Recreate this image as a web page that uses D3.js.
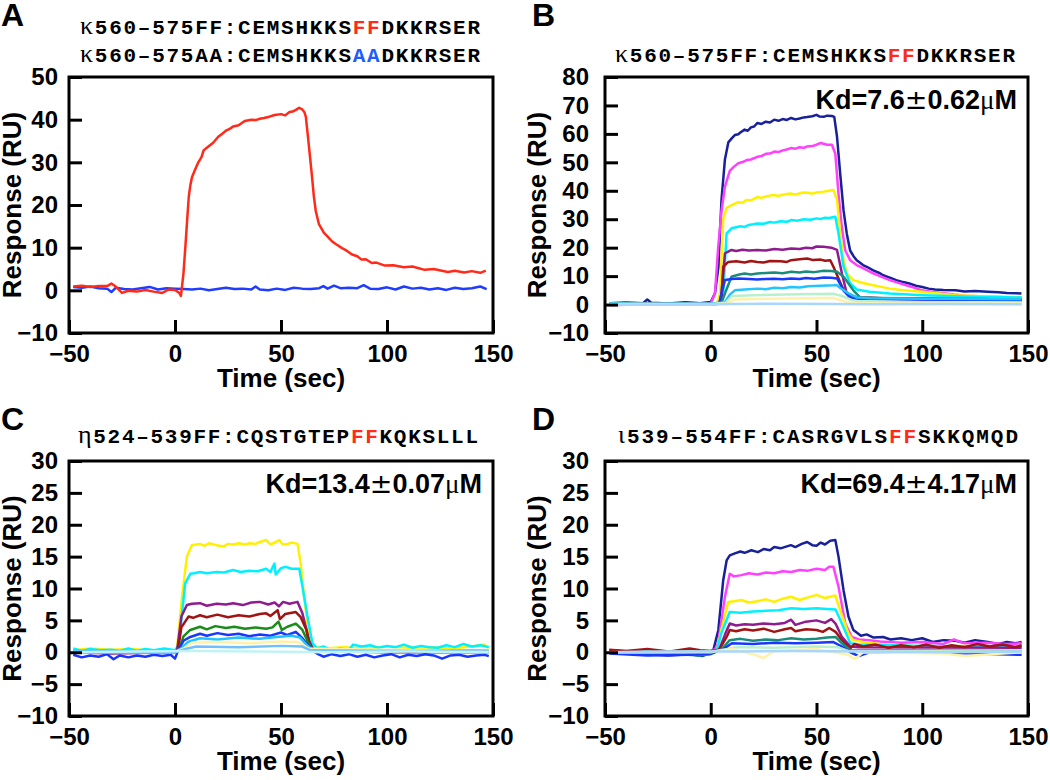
<!DOCTYPE html>
<html>
<head>
<meta charset="utf-8">
<script src="https://cdn.jsdelivr.net/npm/d3@7"></script>
<style>
  body { margin: 0; background: #fff; }
  text { font-family: "Liberation Sans", Arial, Helvetica, sans-serif; }
</style>
</head>
<body>
<div id="container"></div>
<script>
// time ticks shared by all panels
var xTicks = [-50, 0, 50, 100, 150];
var yTicksA = [-10, 0, 10, 20, 30, 40, 50];
var yTicksB = [-10, 0, 10, 20, 30, 40, 50, 60, 70, 80];
var yTicksCD = [-10, -5, 0, 5, 10, 15, 20, 25, 30];

/* panel A : kappa FF (red) and kappa AA (blue) */
var aFF = [[-48,0.9],[-44,1.1],[-40,0.8],[-36,1.0],[-32,1.0],[-30,1.6],[-28,0.9],[-25,-0.6],[-22,-0.1],[-18,-0.3],[-14,0.1],[-10,-0.3],[-6,-0.6],[-3,0.2],[0,0.1],[2,-0.6],[2.8,-1.3],[4,4],[5,11],[5.8,17],[6.5,22],[7.2,24.5],[8,26.5],[9.5,28.3],[11,30],[12.5,31.2],[13.5,32.8],[15,33.4],[16.5,34],[18,34.6],[20.4,36],[22,36.6],[24.3,37.5],[26,37.9],[27.4,38.4],[30,38.7],[32.9,39.7],[36,40],[38,39.9],[40,40.2],[42,40.4],[44.5,40.7],[47,41.1],[50,41.3],[52,41.0],[54,41.8],[55.5,41.9],[57,42.3],[58.6,42.8],[60,42.4],[61,41.8],[61.7,40.7],[62.5,37],[63.2,33.6],[64.5,27.3],[65.5,22],[66.4,18.6],[67.9,15.5],[70.2,13.5],[72,12.6],[74,11.5],[76,10.8],[78.8,9.9],[81,9.3],[83.5,8.4],[86,8.0],[88,7.2],[90,7.3],[92.8,6.4],[95,6.5],[99,5.8],[103,5.9],[108,5.4],[112,5.6],[117.8,4.8],[122,5.0],[128.7,4.3],[132,4.6],[136.4,4.2],[140,4.5],[144,4.1],[146.6,4.6]];
var aAA = [[-48,0.8],[-44,0.6],[-40,0.9],[-36,0.5],[-32,0.4],[-30,-0.4],[-28,0.6],[-24,0.3],[-20,0.2],[-16,0.5],[-12,0.8],[-8,0.2],[-4,0.5],[0,0.4],[4,0.3],[8,0.2],[12,0.4],[16,0.0],[20,0.3],[24,0.6],[28,0.3],[32,0.4],[36,0.2],[38,0.9],[40,0.2],[44,0.0],[48,0.4],[52,0.1],[56,0.6],[60,0.4],[64,0.3],[68,0.5],[70,1.0],[72,0.4],[75,1.1],[78,0.5],[82,0.6],[86,0.5],[89,1.2],[92,0.4],[96,0.3],[100,0.7],[104,0.2],[108,0.9],[112,0.4],[116,0.6],[120,0.2],[124,0.5],[128,0.1],[132,0.6],[136,0.3],[140,0.5],[144,0.9],[147,0.3]];

/* panel B : kappa FF concentration series */
var b1 = [[-48,0.5],[-40,0.7],[-32,0.5],[-30,1.8],[-28,0.6],[-20,0.4],[-12,0.8],[-5,0.5],[0,0.9],[2,4],[3.6,13],[5.1,37],[6.7,51],[8.3,57],[10,58.5],[11.4,59.6],[13,59.9],[14,60.5],[16,61.5],[17.5,61.1],[19,62.3],[20.5,62.6],[22,63.8],[24,63.5],[26,64.3],[28,64.0],[30,65],[32,64.6],[34,65.2],[36,64.9],[38,65.6],[40,65.1],[42,65.4],[44,65.8],[45.6,65.9],[48,66.2],[50,66.7],[51.5,66.1],[53.4,66],[55,66.4],[57.3,66.3],[58.4,66],[59.7,59],[61.2,46],[62.8,33],[64.3,25],[65.9,19],[67.5,17],[69,15.6],[72,13.9],[74,13.2],[76.8,12],[80,11],[81.5,10.3],[85,9.4],[87.7,8.6],[91,7.9],[93.9,7.4],[97,6.6],[100,6.2],[103,5.6],[106,5.3],[110,5.1],[115.7,5],[120,4.6],[125,4.8],[131,4.5],[136,4.3],[140,4.1],[146.9,3.9]];
var b2 = [[-48,0.3],[-35,0.4],[-20,0.2],[-8,0.5],[0,0.4],[2,3.9],[3.5,20],[5.1,33],[6.7,41.5],[9,47],[11,48.5],[13,49.7],[15,50.1],[17,50.8],[19,51.0],[22.3,52],[24,52.2],[26,53],[28,53.1],[30,53.8],[32,53.6],[34,54.2],[36,54.5],[37.9,55],[40,54.8],[42,55.3],[44,55.1],[45.6,55.6],[48,55.7],[50,56.2],[52,56.8],[55,56.2],[57.3,56.2],[58.9,53],[60.4,39],[62,27],[63.6,19],[65.9,15.6],[69,13.9],[72,12.8],[76.8,11],[80,10],[84.6,8.6],[88,7.8],[92.4,6.8],[96,6],[100,5],[105,4.4],[111,3.9],[115,3.5],[120,3.1],[130,2.8],[140,2.6],[147,2.5]];
var b3 = [[-48,0.2],[-30,0.3],[-15,0.1],[0,0.2],[3,0.5],[4.4,4],[5.9,30],[7.5,34],[10,35],[13,36],[15,35.8],[17,36.8],[19,36.6],[22,37.8],[24,37.5],[26,38],[28,38.3],[30,38.5],[32,38.2],[34,38.6],[36,38.9],[38,39],[40,38.7],[42,39.1],[44,39.4],[46,39.3],[48,39.0],[50,39.4],[53.4,39.7],[56,40],[58,40.3],[59.7,36.8],[61.2,25],[62.8,15.6],[64.3,11],[67.4,8.6],[72,7.6],[76.8,6.8],[80,6.3],[84.6,5.6],[90,5.1],[100,4.5],[108,3.9],[115.7,3.3],[125,3.0],[135,2.8],[147,2.5]];
var b4 = [[-48,0.4],[-30,0.2],[-15,0.4],[0,0.3],[4,0.5],[5.9,3.9],[7.5,25],[9.8,26.8],[12,27.2],[14,27.5],[16,27.3],[18,28],[20,28.2],[22,28.5],[25,28.4],[28,29],[30,28.8],[33,29.3],[36,29.1],[38,29.7],[41,29.5],[44,30],[47,29.8],[50,30.3],[52,30.1],[54,30.5],[56,30.4],[58.9,30.9],[60.4,25],[62.8,13.3],[65.9,7.4],[69,5.3],[75,4.5],[84.6,3.9],[100,3.3],[120,2.8],[147,2.5]];
var b5 = [[-48,0.1],[-30,0.2],[0,0.2],[4,0.3],[5.1,3.9],[6.7,18],[9.8,19.2],[12,18.8],[15,19.3],[18,19.0],[22,19.2],[26,19.0],[30,19.5],[34,19.3],[38,19.7],[42,19.5],[45,20],[48,19.8],[50,20.4],[53.4,20.3],[57,20],[59.7,19.2],[62,11],[64.3,3.9],[69,2.5],[90,2],[120,1.8],[147,1.5]];
var b6 = [[-48,-0.2],[-30,0],[-10,-0.1],[0,0],[4.5,0.5],[5.1,2.7],[5.9,13.3],[8.3,15],[12,15.2],[16,14.8],[19,15.3],[22,15],[25,14.8],[28,15.3],[33,15.2],[36,15.0],[38,15.6],[42,15.9],[45.6,16.2],[48,15.7],[52,15.8],[54,15.4],[56.5,15.6],[58,13.3],[62.8,5],[65.9,2.5],[80,2.2],[110,2],[147,1.8]];
var b7 = [[-48,0.2],[-20,0.1],[0,0.2],[5,0.4],[6.7,3.9],[9.8,9.8],[13,10.5],[16,10.9],[19,10.6],[22,10.9],[26,11.1],[30,11.3],[34,11.0],[38,11.5],[42,11.3],[45,11.6],[49,11.4],[53.4,11.9],[57,11.8],[59.7,11.5],[62.8,9.8],[67.4,5],[70.6,2.5],[80,2.3],[110,2],[147,1.8]];
var b8 = [[-48,0],[-20,0.1],[0,0],[4,0.3],[5.1,3.9],[6.7,8.6],[10,9],[13,9.2],[18,9],[22,8.8],[26,9.0],[30,9.1],[34,8.9],[38,9.2],[42,9.0],[45,9.3],[49,9.1],[53.4,9.5],[57,9.4],[59.7,9.2],[62.8,5],[65.9,2.5],[70,2],[90,1.8],[120,1.7],[147,1.6]];
var b9 = [[-48,0.3],[-20,0.2],[0,0.3],[6.7,0.8],[9,3.5],[11.4,5],[16,5.3],[22,5.6],[26,5.4],[30,5.9],[34,5.7],[38,6.2],[42,6.0],[46,6.4],[52,6.6],[58,6.8],[59.5,6.9],[61.2,5.8],[65,4],[69,2.5],[75,2.2],[100,2],[147,1.9]];
var b10 = [[-48,0.2],[0,0.2],[7,0.6],[10,3],[20,3.3],[35,3.5],[50,3.7],[58,3.8],[62,3],[68,1.2],[100,0.8],[147,0.7]];
var b11 = [[-48,0],[0,0],[8,0.4],[11,1.8],[25,2],[45,2.2],[58,2.3],[64,1],[70,0.4],[147,0.4]];
var b12 = [[-48,0],[-10,0],[10,0.2],[30,0.3],[60,0.2],[75,0.1],[110,0.2],[147,0.1]];

/* panel C : eta FF */
var c1 = [[-48,0.3],[-40,0.6],[-30,0.4],[-20,0.5],[-10,0.2],[0,0.3],[0.9,0.3],[3.3,8.7],[5.6,15],[7.9,16.8],[10,16.9],[11.8,17],[14,16.7],[16,17.1],[19.6,16.8],[23,16.6],[25,17.0],[27.4,16.9],[30,17.1],[33,16.9],[35.2,17.1],[38,17.0],[40,17.3],[43,17.6],[45,16.9],[47,17.2],[49.2,17.6],[50.5,17.0],[52.3,16.9],[55,17.2],[57.8,17.0],[59.3,13.9],[60.9,8.7],[62.5,4.5],[64,1.9],[65.6,0.9],[70,0.6],[80,0.8],[90,0.6],[100,0.9],[110,0.7],[120,0.8],[130,0.6],[140,0.9],[146,1.2],[148,0.6]];
var c2 = [[-48,0.6],[-44,0.2],[-40,0.5],[-35,0.3],[-30,0.4],[-26,0.2],[-22,0.6],[-18,0.2],[-14,0.5],[-10,0.3],[-5,0.6],[0,0.3],[1.5,1.0],[2.5,3.5],[4.8,10.8],[7.2,12.3],[9,12.4],[11.8,12.6],[15,12.4],[19.6,12.6],[23,12.5],[27.4,12.9],[31,12.6],[35,12.8],[39,12.7],[43,13.1],[45,12.6],[46.9,13.9],[47.5,12.2],[50,13.2],[52.3,13.4],[55,13.1],[58.6,13.1],[60.1,10.3],[62.5,5.6],[64.8,1.4],[67,0.6],[70,0.9],[74,0.3],[78,0.6],[82,0.3],[84,1.2],[88,0.9],[92,1.1],[96,0.7],[100,1.0],[104,0.8],[108,1.2],[112,0.7],[116,1.0],[120,0.8],[124,0.7],[128,1.1],[132,0.8],[136,1.3],[140,0.9],[144,1.1],[148,0.8]];
var c3 = [[-48,0],[-30,-0.2],[0,0],[1,0.3],[3,5.6],[5.6,7.4],[8,7.6],[11.8,7.7],[15,7.3],[19.6,7.6],[24,7.5],[27.4,7.7],[32,7.4],[36,7.8],[40,7.9],[44,7.5],[47,7.8],[49,7.2],[51,7.9],[54,7.6],[57.8,7.9],[60.1,6.1],[63.2,1.9],[65,0.5],[70,0.2],[100,0],[148,0]];
var c4 = [[-48,0],[0,0],[1.5,0.5],[3,3.9],[6.4,5.6],[8.5,5.4],[11.8,5.8],[15,5.5],[20,5.9],[25,5.5],[30,5.8],[35,5.6],[40,6.0],[43,6.1],[45,5.7],[48.4,6.6],[49.5,5.2],[52,6.0],[57,6.3],[59.3,5.5],[62,3.5],[63.2,1.4],[65,0.5],[70,0.2],[148,0.1]];
var c5 = [[-48,0],[0,0],[2,0.4],[4,2.5],[7.2,3.5],[11.8,4],[15,3.6],[19,4.1],[24,3.8],[28,4.0],[33,3.7],[38,3.9],[43,3.7],[46,3.9],[48.8,4.8],[50.4,3.5],[53,4.0],[57,4.5],[60.1,3.5],[63,1.4],[65,0.4],[148,0.2]];
var c6 = [[-48,-0.4],[-44,-0.8],[-40,-0.5],[-36,-0.7],[-32,-0.3],[-29,-1.1],[-26,-0.5],[-22,-0.8],[-18,-0.5],[-14,-0.7],[-10,-0.4],[-6,-0.6],[-2,-0.4],[0,-1.0],[1.5,0.3],[4,1.8],[7.2,2.4],[11.8,2.9],[15,2.6],[20,3.0],[25,2.7],[30,2.9],[35,2.5],[40,2.8],[45,2.6],[50,3.1],[53,2.7],[57,3.2],[60.1,2.2],[63,1.0],[65,0.2],[67,-0.2],[70,-0.7],[74,-0.3],[78,-0.6],[82,-0.3],[86,-0.7],[90,-0.4],[94,-0.8],[98,-0.5],[102,-0.3],[106,-0.8],[110,-0.4],[114,-0.6],[118,-0.3],[122,-0.5],[126,-1.0],[130,-0.5],[134,-0.4],[138,-0.7],[142,-0.5],[146,-0.4],[148,-0.6]];
var c7 = [[-48,0.2],[0,0.1],[3,0.6],[6,1.6],[11.8,2.2],[20,2.0],[30,2.3],[40,2.1],[48,2.4],[55,2.6],[59,2.3],[62,1.2],[65,0.3],[148,0.2]];
var c8 = [[-48,0],[0,0],[4,0.6],[8,1.5],[20,1.6],[35,1.4],[50,1.7],[58,1.6],[63,0.6],[148,0.1]];
var c9 = [[-48,0.1],[0,0],[5,0.5],[10,0.9],[30,0.8],[50,1.0],[60,0.9],[64,0.3],[148,0.1]];
var c10 = [[-48,0],[-20,0.1],[10,0.2],[40,0.1],[70,0],[110,0.1],[148,0]];

/* panel D : iota FF */
var d1 = [[-48,0.3],[-40,0.1],[-30,-0.3],[-20,-0.5],[-10,-0.3],[-4,-0.6],[0,0],[1.2,0.3],[3.6,3.5],[5.9,11.3],[7.5,14.4],[9,15.2],[11.4,15.5],[14,15.8],[16,15.6],[19.2,16],[22.3,15.7],[25,16.2],[28,16.0],[30,16.5],[33,16.3],[36,16.6],[37.9,16.8],[40,16.5],[43,17.0],[45.6,17.3],[48,16.8],[50,16.7],[52,17.2],[54,16.9],[56.5,17.5],[58.9,17.6],[60.4,15],[62.8,9.7],[65.1,5.6],[67.4,3.5],[69,3.1],[71,2.6],[73.7,2.8],[77,2.3],[81.5,2.4],[85,2.0],[90,2.2],[95,1.9],[100,2.2],[105,1.6],[110,1.9],[115.7,1.8],[120,1.5],[125,1.9],[131,1.6],[136,1.3],[140,1.6],[144,1.4],[147,1.6]];
var d2 = [[-48,0.2],[-30,0.1],[0,0.2],[2,0.5],[3.5,1.4],[6.7,8.7],[9,12.3],[11,11.9],[14.5,12.1],[18,12.4],[22,12.2],[26,12.5],[30,12.4],[34,12.7],[38,12.6],[42,12.9],[46,12.8],[50,13.1],[54,12.9],[56,13.4],[58,13.4],[60.4,10.3],[63.6,4.5],[66.7,2.4],[70,2.0],[75,1.9],[80,1.7],[90,1.5],[100,1.6],[110,1.3],[115,2.0],[120,1.4],[130,1.5],[140,1.3],[147,1.4]];
var d3v = [[-48,0.1],[0,0.1],[3,0.4],[5,3.5],[8.3,7.9],[11,8.0],[14.5,8.2],[18,7.8],[22,8.0],[26,8.3],[30,7.9],[34,8.4],[37.9,8.7],[42,8.2],[46,8.6],[50,9.0],[54,8.5],[58.9,8.9],[61.2,6.6],[65.1,2.9],[67.4,1.9],[72,1.6],[80,1.3],[90,1.1],[100,0.9],[120,1.0],[147,0.8]];
var d4 = [[-48,0.2],[0,0.1],[3,0.4],[5,3],[9,6.3],[14,6.2],[20,6.4],[26,6.5],[32,6.6],[38,6.9],[44,6.8],[50,6.9],[55,6.8],[59,6.7],[62,4.5],[66,1.4],[70,1.2],[100,1.0],[147,0.9]];
var d5 = [[-48,0],[0,0],[4,0.4],[7,3.0],[9,4.5],[12,4.2],[16,4.4],[20,4.3],[25,4.5],[30,4.4],[35,4.6],[38,5.1],[40,4.3],[45,4.8],[50,5.0],[54,4.6],[57,5.2],[59,4.5],[62,2.4],[66,0.9],[70,0.8],[147,0.7]];
var d6 = [[-48,0.4],[-40,0.2],[-30,0.5],[-20,0.1],[-10,0.6],[-5,0.3],[0,0.2],[4,0.4],[7.5,2.4],[9,3.5],[12,3.3],[16,3.6],[20,3.4],[25,3.7],[30,3.2],[35,3.6],[38,3.8],[40,3.3],[45,3.6],[50,3.5],[53,3.2],[56,3.8],[59,3.2],[62,1.9],[66,0.6],[68,1.3],[72,0.9],[78,1.2],[84,0.7],[90,1.1],[96,0.8],[102,1.2],[108,0.7],[114,1.1],[120,0.8],[126,1.3],[132,0.9],[138,1.2],[144,0.8],[147,1.1]];
var d7 = [[-48,0],[-15,-0.3],[-5,-0.5],[0,-0.3],[5,0.4],[9,1.9],[14,2.1],[20,1.8],[26,2.0],[32,1.9],[38,2.2],[44,2.0],[50,2.1],[55,2.3],[59,2.4],[62,1.4],[66,0.3],[147,0.2]];
var d8 = [[-48,-0.2],[-30,-0.5],[-10,-0.4],[0,-0.2],[6,0.5],[10,1.4],[20,1.3],[30,1.5],[40,1.4],[50,1.5],[58,1.6],[62,0.9],[66,0],[70,-0.6],[75,0],[100,0],[147,-0.4]];
var d9 = [[-48,0],[0,0.1],[8,0.5],[12,0.8],[30,0.7],[50,0.9],[60,0.8],[65,0.2],[147,0.1]];
var d10 = [[-48,0],[0,0],[10,0.5],[20,-0.3],[25,-0.9],[30,0.2],[50,0.5],[65,-0.4],[68,-1.1],[72,0],[110,-0.2],[120,-0.6],[147,0]];
var d11 = [[-48,0],[-20,0.1],[10,0.1],[40,0.2],[70,0.1],[110,0],[147,0.1]];

// colours for the concentration series, high to low
var navy = '#18209a', magenta = '#ff40ff', yellow = '#fff000', cyan = '#00f0ff',
    purple = '#8e1c8e', darkred = '#a01414', teal = '#1a8c7c', blue = '#1838ff',
    sky = '#22c4ff', paleGreen = '#b8f0cc', paleYellow = '#fff2a8', lightBlue = '#a8d6ff';

var panels = [
  {x: 69, y: 77, w: 424, h: 256, yDom: [-10, 50], yTicks: yTicksA, pad: 11,
   series: [[aAA, '#1f3cff'], [aFF, '#ff2a1a']]},
  {x: 605, y: 77, w: 423, h: 256, yDom: [-10, 80], yTicks: yTicksB, pad: 16, kd: ['7.6', '0.62'],
   series: [[b1, navy], [b2, magenta], [b3, yellow], [b4, cyan], [b5, purple], [b6, darkred],
            [b7, teal], [b8, blue], [b9, sky], [b10, paleGreen], [b11, paleYellow], [b12, lightBlue]]},
  {x: 69, y: 461, w: 424, h: 255, yDom: [-10, 30], yTicks: yTicksCD, pad: 11, kd: ['13.4', '0.07'],
   series: [[c1, yellow], [c2, cyan], [c3, purple], [c4, darkred], [c5, '#1a8c1a'], [c6, blue],
            [c7, sky], [c8, paleYellow], [c9, '#70c0ff'], [c10, '#c0f4f4']]},
  {x: 605, y: 461, w: 423, h: 255, yDom: [-10, 30], yTicks: yTicksCD, pad: 16, kd: ['69.4', '4.17'],
   series: [[d1, navy], [d2, magenta], [d3v, yellow], [d4, cyan], [d5, purple], [d6, darkred],
            [d7, teal], [d8, blue], [d9, paleGreen], [d10, paleYellow], [d11, lightBlue]]}
];

var svg = d3.select('#container').append('svg')
    .attr('width', 1050)
    .attr('height', 780);

panels.forEach(function (p, i) {
    var g = svg.append('g').attr('transform', 'translate(' + p.x + ',' + p.y + ')');
    var xScale = d3.scaleLinear().domain([-50, 150]).range([0, p.w]);
    var yScale = d3.scaleLinear().domain(p.yDom).range([p.h, 0]);

    g.append('clipPath').attr('id', 'clip' + i)
      .append('rect').attr('width', p.w).attr('height', p.h);

    var line = d3.line().x(d => xScale(d[0])).y(d => yScale(d[1]));
    g.append('g').attr('clip-path', 'url(#clip' + i + ')')
      .selectAll('path').data(p.series).enter().append('path')
        .attr('d', d => line(d[0]))
        .style('fill', 'none')
        .style('stroke', d => d[1])
        .style('stroke-width', 2.5)
        .style('stroke-linejoin', 'round');

    // inward ticks
    var xAxis = d3.axisBottom(xScale).tickValues(xTicks).tickSize(-13).tickPadding(12);
    var yAxis = d3.axisLeft(yScale).tickValues(p.yTicks).tickSize(-13).tickPadding(p.pad);
    var gx = g.append('g').attr('transform', 'translate(0,' + p.h + ')').call(xAxis);
    var gy = g.append('g').call(yAxis);
    [gx, gy].forEach(function (a) {
        a.select('.domain').remove();
        a.selectAll('line').style('stroke', '#000').style('stroke-width', 3);
        a.selectAll('text').style('font-size', '24px').style('font-weight', 'bold')
          .style('font-family', '"Liberation Sans", Arial, sans-serif').style('fill', '#000');
    });

    g.append('rect').attr('width', p.w).attr('height', p.h)
      .style('fill', 'none').style('stroke', '#000').style('stroke-width', 3);

    g.append('text').attr('x', p.w / 2).attr('y', p.h + 54)
      .attr('text-anchor', 'middle')
      .style('font-size', '26px').style('font-weight', 'bold')
      .text('Time (sec)');

    g.append('text')
      .attr('transform', 'translate(' + (i % 2 ? -59 : -48) + ',' + (p.h / 2) + ') rotate(-90)')
      .attr('text-anchor', 'middle')
      .style('font-size', '26px').style('font-weight', 'bold')
      .text('Response (RU)');

    if (p.kd) {
        var kt = g.append('text').attr('x', p.w - 11).attr('y', 32)
          .attr('text-anchor', 'end')
          .style('font-size', '27px').style('font-weight', 'bold');
        kt.append('tspan').text('Kd=' + p.kd[0]);
        kt.append('tspan').style('font-weight', 'normal').style('font-family', '"DejaVu Sans", sans-serif').text('\u00b1');
        kt.append('tspan').text(p.kd[1]);
        kt.append('tspan').style('font-weight', 'normal').style('font-family', '"Liberation Serif", serif').text('\u03bc');
        kt.append('tspan').text('M');
    }
});

// peptide sequence headers
var headers = [
  {x: 80, y: 34, greek: '\u03ba', parts: [['560\u2013575FF:CEMSHKKS', '#000'], ['FF', '#ff2a1a'], ['DKKRSER', '#000']]},
  {x: 80, y: 62, greek: '\u03ba', parts: [['560\u2013575AA:CEMSHKKS', '#000'], ['AA', '#1f5cff'], ['DKKRSER', '#000']]},
  {x: 615, y: 62, greek: '\u03ba', parts: [['560\u2013575FF:CEMSHKKS', '#000'], ['FF', '#ff2a1a'], ['DKKRSER', '#000']]},
  {x: 78, y: 443, greek: '\u03b7', parts: [['524\u2013539FF:CQSTGTEP', '#000'], ['FF', '#ff2a1a'], ['KQKSLLL', '#000']]},
  {x: 618, y: 443, greek: '\u03b9', parts: [['539\u2013554FF:CASRGVLS', '#000'], ['FF', '#ff2a1a'], ['SKKQMQD', '#000']]}
];

headers.forEach(function (h) {
    var t = svg.append('text').attr('x', h.x).attr('y', h.y)
      .attr('textLength', 400).attr('lengthAdjust', 'spacing')
      .style('font-family', '"Liberation Mono", "Courier New", monospace')
      .style('font-weight', 'bold').style('font-size', '21px');
    t.append('tspan').style('font-family', '"Liberation Serif", serif')
      .style('font-weight', 'normal').style('font-size', '26px').text(h.greek);
    h.parts.forEach(function (s) {
        t.append('tspan').style('fill', s[1]).text(s[0]);
    });
});

// panel letters
[['A', 1, 26], ['B', 532, 26], ['C', 1, 430], ['D', 532, 430]].forEach(function (l) {
    svg.append('text').attr('x', l[1]).attr('y', l[2])
      .style('font-size', '32px').style('font-weight', 'bold').text(l[0]);
});
</script>
</body>
</html>
